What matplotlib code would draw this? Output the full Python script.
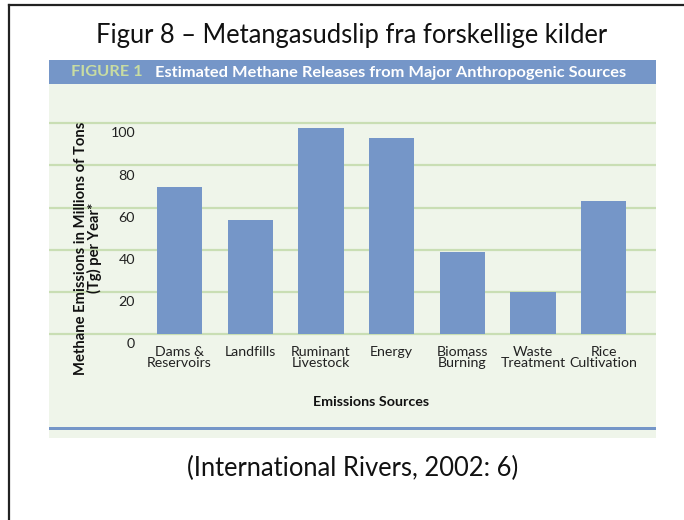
import matplotlib
matplotlib.use("Agg")
import matplotlib.pyplot as plt
from matplotlib.patches import Rectangle
import matplotlib.transforms as mtransforms

categories = ["Dams &\nReservoirs", "Landfills", "Ruminant\nLivestock", "Energy",
              "Biomass\nBurning", "Waste\nTreatment", "Rice\nCultivation"]
values = [70, 54, 98, 93, 39, 20, 63]
y_ticks = [0, 20, 40, 60, 80, 100]

slide_title = "Figur 8 \u2013 Metangasudslip fra forskellige kilder"
fig_label = "FIGURE 1"
fig_title = "Estimated Methane Releases from Major Anthropogenic Sources"
y_label = "Methane Emissions in Millions of Tons\n(Tg) per Year*"
x_label = "Emissions Sources"
citation = "(International Rivers, 2002: 6)"

W, H = 684, 520
BLUE = "#7596c8"
PANEL = "#eff5ea"
GRID = "#c9deb4"
LABEL_GREEN = "#c8dca2"
chartfont = ["Lato", "DejaVu Sans"]
calibri = ["Lato", "DejaVu Sans"]

fig = plt.figure(figsize=(W / 100, H / 100), dpi=100)
fig.patch.set_facecolor("white")

def fx(px):
    return px / W

def fy(py):
    return 1 - py / H

# slide border (left and top)
fig.add_artist(plt.Line2D([fx(9), fx(9)], [fy(5), 0], color="#222222", lw=1.6))
fig.add_artist(plt.Line2D([fx(9), 1], [fy(5), fy(5)], color="#222222", lw=1.6))

# panel background
px0, px1 = 49, 656
fig.add_artist(Rectangle((fx(px0), fy(437.7)), fx(px1 - px0), (437.7 - 84.3) / H,
                         facecolor=PANEL, edgecolor="none", zorder=0))
# header bar
fig.add_artist(Rectangle((fx(px0), fy(84.3)), fx(px1 - px0), (84.3 - 60) / H,
                         facecolor=BLUE, edgecolor="none", zorder=1))
# bottom blue line
fig.add_artist(Rectangle((fx(px0), fy(430.2)), fx(px1 - px0), 3.0 / H,
                         facecolor=BLUE, edgecolor="none", zorder=1))

# axes covering panel
ax = fig.add_axes([fx(px0), fy(437.7), fx(px1 - px0), (437.7 - 84.3) / H])
ax.set_facecolor("none")
for s in ax.spines.values():
    s.set_visible(False)
ppu = 2.11
y0px = 334.3
ax.set_ylim(-(437.7 - y0px) / ppu, (y0px - 84.3) / ppu)
pitch = 70.7
c0 = 179.5
ax.set_xlim(-(c0 - px0) / pitch, (px1 - c0) / pitch)

for t in y_ticks:
    ax.axhline(t, color=GRID, lw=1.6, zorder=1)

x = list(range(len(categories)))
ax.bar(x, values, width=0.64, color=BLUE, zorder=2)
ax.set_xticks([])
ax.set_yticks([])

# y tick labels, offset below gridlines
off = mtransforms.ScaledTranslation(0, -10 / 100, fig.dpi_scale_trans)
ytrans = mtransforms.blended_transform_factory(fig.transFigure, ax.transData) + off
for t in y_ticks:
    ax.text(fx(135), t, str(t), transform=ytrans, ha="right", va="center",
            fontsize=10.3, family=chartfont, color="#222222")

# x category labels
xtrans = mtransforms.blended_transform_factory(ax.transData, fig.transFigure)
for xi, lab in zip(x, categories):
    ax.text(xi, fy(345.5), lab, transform=xtrans, ha="center", va="top",
            fontsize=10.2, family=chartfont, color="#222222", linespacing=0.95)

fig.text(fx(371), fy(402), x_label, ha="center", va="center", fontsize=10.3,
         family=chartfont, fontweight="bold", color="#111111")
fig.text(fx(88), fy(248), y_label, ha="center", va="center", rotation=90,
         fontsize=10.6, family=chartfont, fontweight="bold", color="#111111",
         linespacing=0.92)

# header text
fig.text(fx(71), fy(72.5), fig_label, ha="left", va="center", fontsize=11.8,
         family=chartfont, fontweight="bold", color=LABEL_GREEN)
fig.text(fx(155), fy(72.5), fig_title, ha="left", va="center", fontsize=11.8,
         family=chartfont, fontweight="bold", color="white")

# slide title and citation
fig.text(fx(352), fy(35), slide_title, ha="center", va="center", fontsize=18.4,
         family=calibri, color="#111111")
fig.text(fx(352.5), fy(468), citation, ha="center", va="center", fontsize=18.4,
         family=calibri, color="#111111")

fig.savefig("out.png", dpi=100, facecolor="white")
